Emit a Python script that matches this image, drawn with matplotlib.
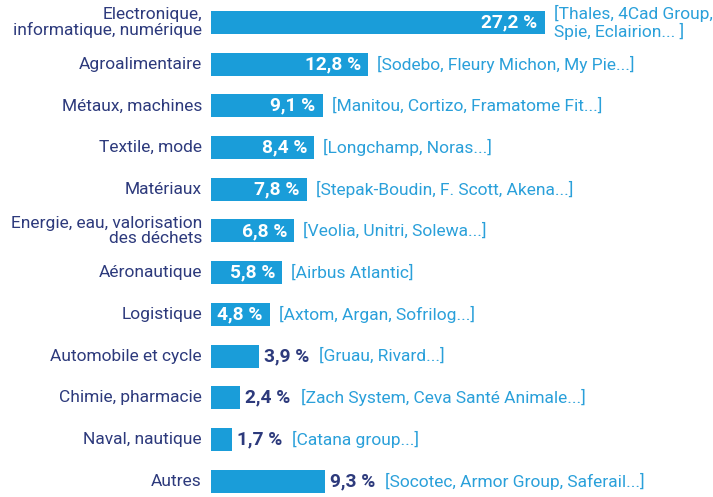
import matplotlib
matplotlib.use("Agg")
import matplotlib.pyplot as plt

categories = ["Electronique,\ninformatique, numérique", "Agroalimentaire", "Métaux, machines",
              "Textile, mode", "Matériaux", "Energie, eau, valorisation\ndes déchets",
              "Aéronautique", "Logistique", "Automobile et cycle", "Chimie, pharmacie",
              "Naval, nautique", "Autres"]
values = [27.2, 12.8, 9.1, 8.4, 7.8, 6.8, 5.8, 4.8, 3.9, 2.4, 1.7, 9.3]
value_labels = ["27,2 %", "12,8 %", "9,1 %", "8,4 %", "7,8 %", "6,8 %", "5,8 %", "4,8 %",
                "3,9 %", "2,4 %", "1,7 %", "9,3 %"]
companies = ["[Thales, 4Cad Group,\nSpie, Eclairion... ]", "[Sodebo, Fleury Michon, My Pie...]",
             "[Manitou, Cortizo, Framatome Fit...]", "[Longchamp, Noras...]",
             "[Stepak-Boudin, F. Scott, Akena...]", "[Veolia, Unitri, Solewa...]",
             "[Airbus Atlantic]", "[Axtom, Argan, Sofrilog...]", "[Gruau, Rivard...]",
             "[Zach System, Ceva Santé Animale...]", "[Catana group...]",
             "[Socotec, Armor Group, Saferail...]"]
inside = [True, True, True, True, True, True, True, True, False, False, False, False]

plt.rcParams['font.family'] = ['Roboto', 'DejaVu Sans']

BAR = "#1a9dd9"
NAVY = "#2d3a7c"
LIGHT = "#2aa0da"

W, H = 713, 497
fig = plt.figure(figsize=(W/100, H/100), dpi=100)
left_px = 211
ax = fig.add_axes([left_px/W, 0, 1-left_px/W, 1])
pxu = 12.27
ax.set_xlim(0, (W-left_px)/pxu)
row = 41.7
y0 = 22.5
ax.set_ylim((H-y0)/row, -y0/row)
ax.axis('off')

ys = list(range(len(categories)))
ax.barh(ys, values, height=23/row, color=BAR, left=0)

fs = 12.5
vfs = 13.8
for i, (v, vl, c, ins) in enumerate(zip(values, value_labels, companies, inside)):
    ax.text(-9/pxu, i, categories[i], ha='right', va='center', color=NAVY, fontsize=fs,
            linespacing=1.0)
    if ins:
        ax.text(v - 7/pxu, i, vl, ha='right', va='center', color='white', fontsize=vfs,
                fontweight='semibold')
        ax.text(v + 9/pxu, i, c, ha='left', va='center', color=LIGHT, fontsize=fs,
                linespacing=1.0)
    else:
        t = ax.text(v + 5/pxu, i, vl, ha='left', va='center', color=NAVY, fontsize=vfs,
                    fontweight='semibold')
        ax.annotate(c, xy=(1, 0.5), xycoords=t, xytext=(7, 0), textcoords='offset points',
                    ha='left', va='center', color=LIGHT, fontsize=fs)

fig.savefig("out.png", dpi=100)
